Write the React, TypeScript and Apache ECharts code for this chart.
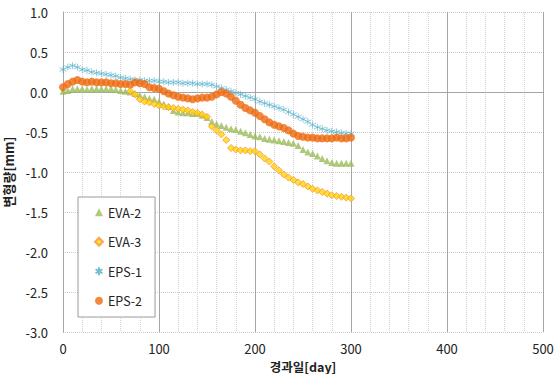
import React, { useEffect, useRef } from "react";
import * as echarts from "echarts";

const days = [0, 5, 10, 15, 20, 25, 30, 35, 40, 45, 50, 55, 60, 65, 70, 75, 80, 85, 90, 95, 100, 105, 110, 115, 120, 125, 130, 135, 140, 145, 150, 155, 160, 165, 170, 175, 180, 185, 190, 195, 200, 205, 210, 215, 220, 225, 230, 235, 240, 245, 250, 255, 260, 265, 270, 275, 280, 285, 290, 295, 300];

const eva2 = [0.01, 0.02, 0.04, 0.04, 0.04, 0.03, 0.04, 0.04, 0.04, 0.04, 0.04, 0.03, 0.02, 0.01, 0.0, -0.02, -0.04, -0.06, -0.08, -0.09, -0.12, -0.15, -0.18, -0.23, -0.25, -0.26, -0.26, -0.27, -0.27, -0.29, -0.32, -0.37, -0.4, -0.42, -0.44, -0.46, -0.47, -0.49, -0.51, -0.53, -0.55, -0.56, -0.58, -0.59, -0.6, -0.61, -0.62, -0.63, -0.64, -0.67, -0.72, -0.75, -0.77, -0.8, -0.83, -0.86, -0.88, -0.89, -0.89, -0.89, -0.89];

const eva3Days = [70, 75, 80, 85, 90, 95, 100, 105, 110, 115, 120, 125, 130, 135, 140, 145, 150, 155, 160, 165, 170, 175, 180, 185, 190, 195, 200, 205, 210, 215, 220, 225, 230, 235, 240, 245, 250, 255, 260, 265, 270, 275, 280, 285, 290, 295, 300];
const eva3 = [0.01, -0.03, -0.09, -0.12, -0.13, -0.15, -0.17, -0.18, -0.19, -0.2, -0.21, -0.22, -0.23, -0.25, -0.26, -0.28, -0.31, -0.43, -0.48, -0.53, -0.6, -0.7, -0.72, -0.73, -0.73, -0.74, -0.74, -0.78, -0.83, -0.87, -0.93, -0.98, -1.03, -1.07, -1.1, -1.13, -1.15, -1.18, -1.21, -1.23, -1.25, -1.27, -1.29, -1.3, -1.31, -1.32, -1.33];

const eps1 = [0.28, 0.31, 0.33, 0.31, 0.28, 0.27, 0.25, 0.24, 0.23, 0.22, 0.21, 0.2, 0.18, 0.17, 0.16, 0.15, 0.15, 0.14, 0.14, 0.14, 0.13, 0.13, 0.12, 0.12, 0.12, 0.11, 0.11, 0.11, 0.1, 0.1, 0.1, 0.09, 0.07, 0.05, 0.03, 0.01, -0.01, -0.03, -0.05, -0.07, -0.09, -0.12, -0.14, -0.16, -0.18, -0.2, -0.22, -0.25, -0.28, -0.31, -0.34, -0.37, -0.41, -0.44, -0.46, -0.48, -0.49, -0.5, -0.51, -0.52, -0.52];

const eps2 = [0.06, 0.1, 0.13, 0.15, 0.13, 0.12, 0.13, 0.12, 0.12, 0.12, 0.11, 0.11, 0.1, 0.1, 0.09, 0.12, 0.11, 0.1, 0.06, 0.05, 0.04, 0.01, -0.02, -0.04, -0.06, -0.07, -0.08, -0.09, -0.08, -0.07, -0.07, -0.06, -0.03, 0.0, -0.02, -0.06, -0.11, -0.16, -0.2, -0.23, -0.26, -0.3, -0.34, -0.38, -0.41, -0.43, -0.45, -0.48, -0.52, -0.55, -0.56, -0.57, -0.57, -0.58, -0.58, -0.58, -0.58, -0.57, -0.58, -0.58, -0.57];

const seriesNames = ["EVA-2", "EVA-3", "EPS-1", "EPS-2"];
const yTicks = { min: -3, max: 1, interval: 0.5 };
const xTicks = { min: 0, max: 500, interval: 100 };

const starPath = "path://M5,0L5,10M0.7,2.5L9.3,7.5M9.3,2.5L0.7,7.5";
const FONT = "'Noto Sans CJK KR', 'Noto Sans', sans-serif";

export default function App() {
  const ref = useRef<HTMLDivElement>(null);
  useEffect(() => {
    if (!ref.current) return;
    const chart = echarts.init(ref.current, null, { renderer: "svg" });
    const pair = (xs: number[], ys: number[]) => xs.map((x, i) => [x, ys[i]]);
    chart.setOption({
      animation: false,
      backgroundColor: "#fff",
      textStyle: { fontFamily: FONT },
      grid: { left: 63, right: 11, top: 12, bottom: 42, containLabel: false, outerBoundsMode: "none" },
      legend: {
        orient: "vertical",
        left: 78,
        top: 197,
        data: seriesNames,
        backgroundColor: "#fff",
        borderColor: "#9a9a9a",
        borderWidth: 1,
        padding: [9, 13, 10, 16],
        itemGap: 17,
        itemWidth: 8,
        itemHeight: 8,
        textStyle: { fontFamily: FONT, fontSize: 12.5, color: "#222" },
      },
      xAxis: {
        type: "value",
        min: xTicks.min,
        max: xTicks.max,
        interval: xTicks.interval,
        name: "경과일[day]",
        nameLocation: "middle",
        nameGap: 16,
        nameTextStyle: { fontFamily: FONT, fontSize: 12.5, fontWeight: "bold", color: "#222", lineHeight: 14 },
        axisLine: { show: true, lineStyle: { color: "#a6a6a6" } },
        axisTick: { show: false },
        axisLabel: { fontSize: 13, color: "#222", margin: 10, fontFamily: FONT },
        splitLine: { show: true, lineStyle: { color: "#a6a6a6", type: "solid", width: 1 } },
        minorTick: { show: false, splitNumber: 5 },
        minorSplitLine: { show: true, lineStyle: { color: "#d4d4d4", type: "dotted", width: 1 } },
      },
      yAxis: {
        type: "value",
        min: yTicks.min,
        max: yTicks.max,
        interval: yTicks.interval,
        name: "변형량[mm]",
        nameLocation: "middle",
        nameGap: 42,
        nameRotate: 90,
        nameTextStyle: { fontFamily: FONT, fontSize: 13, fontWeight: "bold", color: "#222" },
        axisLine: { show: true, lineStyle: { color: "#a6a6a6" } },
        axisTick: { show: false },
        axisLabel: {
          fontSize: 13,
          color: "#222",
          margin: 15,
          fontFamily: FONT,
          formatter: (v: number) => v.toFixed(1),
        },
        splitLine: { show: true, lineStyle: { color: "#c8c8c8", type: "dotted", width: 1 } },
      },
      series: [
        {
          name: "EVA-2",
          type: "scatter",
          data: pair(days, eva2),
          symbol: "triangle",
          symbolSize: 7,
          itemStyle: { color: "#9BBB59" },
          z: 2,
        },
        {
          name: "EVA-3",
          type: "scatter",
          data: pair(eva3Days, eva3),
          symbol: "diamond",
          symbolSize: 7,
          itemStyle: { color: "#FFD700", borderColor: "#F79646", borderWidth: 1 },
          z: 5,
        },
        {
          name: "EPS-1",
          type: "scatter",
          data: pair(days, eps1),
          symbol: starPath,
          symbolSize: 7,
          itemStyle: { color: "#4BACC6", borderColor: "#4BACC6", borderWidth: 0.8 },
          z: 3,
        },
        {
          name: "EPS-2",
          type: "scatter",
          data: pair(days, eps2),
          symbol: "circle",
          symbolSize: 8,
          itemStyle: { color: "#EE6A10" },
          z: 4,
        },
      ],
    });
    return () => chart.dispose();
  }, []);
  return (
    <div
      ref={ref}
      style={{ width: 554, height: 374, position: "absolute", left: 0, top: 0 }}
    />
  );
}
